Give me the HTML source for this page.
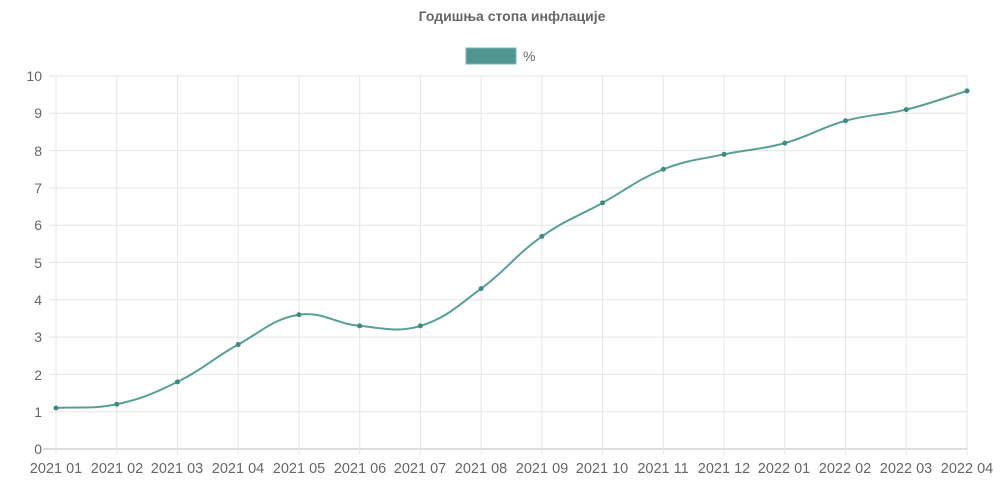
<!DOCTYPE html>
<html><head><meta charset="utf-8"><style>
body{margin:0;background:#fff;}
svg text{font-family:"Liberation Sans",Arial,sans-serif;fill:#666;}
</style></head><body>
<svg id="c" width="1000" height="496" xmlns="http://www.w3.org/2000/svg">
<text x="512" y="21" text-anchor="middle" font-size="14" font-weight="bold">Годишња стопа инфлације</text>
<rect x="466" y="48" width="50" height="16" fill="#4e968f" stroke="#7cb8b2" stroke-width="1"/>
<text x="523" y="61" font-size="14">%</text>
<g id="grid" stroke="#e5e5e5" stroke-width="1"></g>
<g font-size="14" text-anchor="end">
<text x="42" y="454">0</text><text x="42" y="417">1</text><text x="42" y="380">2</text><text x="42" y="342">3</text><text x="42" y="305">4</text><text x="42" y="268">5</text><text x="42" y="230">6</text><text x="42" y="193">7</text><text x="42" y="156">8</text><text x="42" y="118">9</text><text x="42" y="81">10</text>
</g>
<g font-size="14.5" text-anchor="middle">
<text x="56" y="473">2021 01</text><text x="117" y="473">2021 02</text><text x="177" y="473">2021 03</text><text x="238" y="473">2021 04</text><text x="299" y="473">2021 05</text><text x="360" y="473">2021 06</text><text x="420" y="473">2021 07</text><text x="481" y="473">2021 08</text><text x="542" y="473">2021 09</text><text x="602" y="473">2021 10</text><text x="663" y="473">2021 11</text><text x="724" y="473">2021 12</text><text x="784" y="473">2022 01</text><text x="845" y="473">2022 02</text><text x="906" y="473">2022 03</text><text x="967" y="473">2022 04</text>
</g>
<path id="ln" fill="none" stroke="#5a9e97" stroke-width="2"/>
<g id="pts" fill="#3f8a82"></g>
</svg>
<script>
var v=[1.1,1.2,1.8,2.8,3.6,3.3,3.3,4.3,5.7,6.6,7.5,7.9,8.2,8.8,9.1,9.6];
var x0=56,dx=(967-56)/15,y0=449,dy=37.3;
var g=document.getElementById('grid'),s='';
for(var i=0;i<=10;i++){var y=y0-i*dy;s+='<line x1="'+(i==0?43:49)+'" x2="967" y1="'+y+'" y2="'+y+'"'+(i==0?' stroke="#bbb"':'')+'/>';}
for(var i=0;i<16;i++){var x=x0+i*dx;s+='<line x1="'+x+'" x2="'+x+'" y1="76" y2="455"/>';}
g.innerHTML=s;
var P=v.map(function(a,i){return [x0+i*dx,y0-a*dy]});
var t=0.4,cp=[];
for(var i=0;i<P.length;i++){var p=P[i-1]||P[i],c=P[i],n=P[i+1]||P[i];
var d1=Math.hypot(c[0]-p[0],c[1]-p[1]),d2=Math.hypot(n[0]-c[0],n[1]-c[1]);
var fa=d1+d2?t*d1/(d1+d2):0,fb=d1+d2?t*d2/(d1+d2):0;
cp.push([[c[0]-fa*(n[0]-p[0]),c[1]-fa*(n[1]-p[1])],[c[0]+fb*(n[0]-p[0]),c[1]+fb*(n[1]-p[1])]]);}
var d='M'+P[0];
for(var i=1;i<P.length;i++){d+=' C'+cp[i-1][1]+' '+cp[i][0]+' '+P[i];}
document.getElementById('ln').setAttribute('d',d);
var q='';P.forEach(function(p){q+='<circle cx="'+p[0]+'" cy="'+p[1]+'" r="2.5"/>'});
document.getElementById('pts').innerHTML=q;
</script>
</body></html>
